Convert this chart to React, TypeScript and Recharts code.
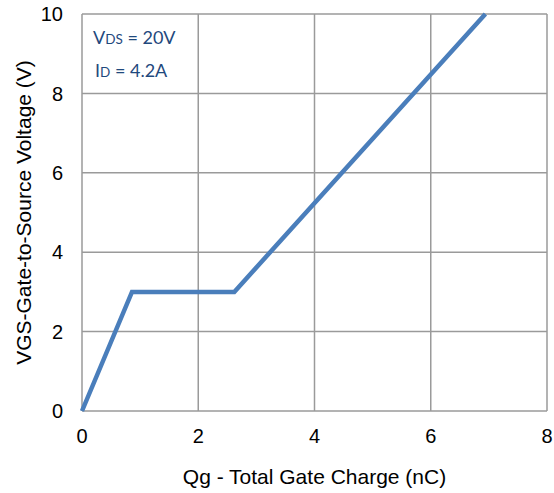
import React from 'react';
import {
  LineChart,
  Line,
  XAxis,
  YAxis,
  CartesianGrid,
  ReferenceDot,
} from 'recharts';

// Gate charge curve: Qg (nC) vs VGS (V)
const chargeNC = [0, 0.86, 2.62, 6.94];
const gateVolts = [0, 3, 3, 10];

const xTicks = [0, 2, 4, 6, 8];
const yTicks = [0, 2, 4, 6, 8, 10];

const xTitle = 'Qg - Total Gate Charge (nC)';
const yTitle = 'VGS-Gate-to-Source Voltage (V)';

const data = chargeNC.map((q, i) => ({ q, v: gateVolts[i] }));

const FONT = '"Liberation Sans", Arial, sans-serif';
const NOTE_FONT = 'Lato, "Open Sans", sans-serif';
const NOTE_COLOR = '#1F497D';
const GRID = '#9a9a9a';
const LINE = '#4A7EBB';

const XTitle = (props: any) => {
  const vb = props.viewBox;
  return (
    <text
      x={vb.x + vb.width / 2}
      y={vb.y + 72.5}
      textAnchor="middle"
      fontFamily={FONT}
      fontSize={21}
      fill="#000"
    >
      {xTitle}
    </text>
  );
};

const YTitle = (props: any) => {
  const vb = props.viewBox;
  const cx = 31;
  const cy = vb.y + vb.height / 2;
  return (
    <text
      x={cx}
      y={cy}
      textAnchor="middle"
      fontFamily={FONT}
      fontSize={21}
      fill="#000"
      transform={`rotate(-90, ${cx}, ${cy})`}
    >
      {yTitle}
    </text>
  );
};

// Test-condition note anchored at the top-left corner of the plot
const Conditions = (props: any) => {
  const vb = props.viewBox;
  const x = vb.x;
  const y = vb.y;
  return (
    <g fontFamily={NOTE_FONT} fill={NOTE_COLOR}>
      <text x={x + 11} y={y + 30} fontSize={18}>
        V<tspan fontSize={13.5}>DS</tspan> = 20V
      </text>
      <text x={x + 13} y={y + 63} fontSize={18}>
        I<tspan fontSize={13.5}>D</tspan> = 4.2A
      </text>
    </g>
  );
};

export default function App() {
  return (
    <div style={{ position: 'absolute', left: 0, top: 0 }}>
      <LineChart
        width={554}
        height={493}
        data={data}
        margin={{ top: 14, right: 7, bottom: 0, left: 0 }}
      >
        <CartesianGrid stroke={GRID} strokeWidth={1.5} />
        <XAxis
          dataKey="q"
          type="number"
          domain={[0, 8]}
          ticks={xTicks}
          height={82}
          axisLine={false}
          tickLine={false}
          tickSize={0}
          tickMargin={18}
          tick={{ fontFamily: FONT, fontSize: 20, fill: '#000' }}
          label={<XTitle />}
        />
        <YAxis
          type="number"
          domain={[0, 10]}
          ticks={yTicks}
          width={82}
          axisLine={false}
          tickLine={false}
          tickSize={0}
          tickMargin={19}
          tick={{ fontFamily: FONT, fontSize: 20, fill: '#000' }}
          label={<YTitle />}
        />
        <Line
          dataKey="v"
          stroke={LINE}
          strokeWidth={4.5}
          dot={false}
          isAnimationActive={false}
          strokeLinejoin="miter"
        />
        <ReferenceDot x={0} y={10} r={0} label={<Conditions />} />
      </LineChart>
    </div>
  );
}
